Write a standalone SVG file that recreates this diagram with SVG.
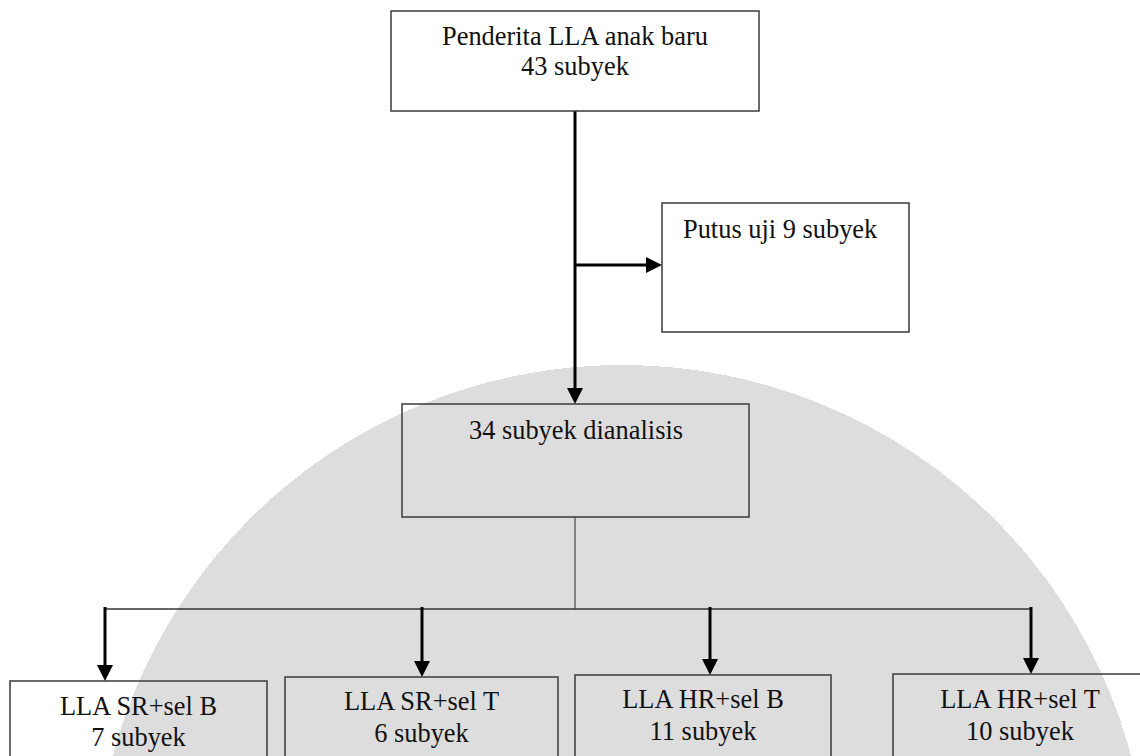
<svg xmlns="http://www.w3.org/2000/svg" width="1140" height="756" viewBox="0 0 1140 756">
  <style>
    .box { fill: none; stroke: #3a3a3a; stroke-width: 1.5; }
    .label { font-family: "Liberation Serif", "Times New Roman", serif; font-size: 26.4px; fill: #111; }
    .mid { text-anchor: middle; }
    .flow { stroke: #000; stroke-width: 3; fill: none; marker-end: url(#head); }
    .bus { stroke: #333; stroke-width: 1.5; fill: none; }
    .stem { stroke: #666; stroke-width: 1.5; fill: none; }
  </style>
  <defs>
    <marker id="head" markerUnits="userSpaceOnUse" markerWidth="16" markerHeight="16" refX="8" refY="8" orient="auto">
      <path d="M0,0 L16,8 L0,16 Z" fill="#000"/>
    </marker>
  </defs>

  <rect width="1140" height="756" fill="#fff"/>
  <!-- background seal -->
  <circle cx="622" cy="892" r="527" fill="#dddddd" shape-rendering="crispEdges"/>

  <g id="connectors">
    <!-- main trunk -->
    <line class="flow" x1="575" y1="111" x2="575" y2="396"/>
    <!-- dropout branch -->
    <line class="flow" x1="575" y1="265" x2="654" y2="265"/>
    <!-- split to groups -->
    <line class="stem" x1="575" y1="517" x2="575" y2="609"/>
    <line class="bus" x1="105" y1="609" x2="1031" y2="609"/>
    <line class="flow" x1="105" y1="607" x2="105" y2="673"/>
    <line class="flow" x1="422" y1="607" x2="422" y2="669"/>
    <line class="flow" x1="710" y1="607" x2="710" y2="667"/>
    <line class="flow" x1="1031" y1="607" x2="1031" y2="666"/>
  </g>

  <g id="node-start">
    <rect class="box" x="391" y="11" width="368" height="100"/>
    <text class="label mid" x="575" y="45">Penderita LLA anak baru</text>
    <text class="label mid" x="575" y="75">43 subyek</text>
  </g>

  <g id="node-dropout">
    <rect class="box" x="662" y="203" width="247" height="129"/>
    <text class="label" x="683" y="238">Putus uji 9 subyek</text>
  </g>

  <g id="node-analysed">
    <rect class="box" x="402" y="404" width="347" height="113"/>
    <text class="label mid" x="576" y="439">34 subyek dianalisis</text>
  </g>

  <g id="node-sr-b">
    <rect class="box" x="10" y="681" width="257" height="120"/>
    <text class="label mid" x="138.5" y="715">LLA SR+sel B</text>
    <text class="label mid" x="138.5" y="746">7 subyek</text>
  </g>

  <g id="node-sr-t">
    <rect class="box" x="285" y="677" width="273" height="120"/>
    <text class="label mid" x="421.5" y="710">LLA SR+sel T</text>
    <text class="label mid" x="421.5" y="742">6 subyek</text>
  </g>

  <g id="node-hr-b">
    <rect class="box" x="575" y="675" width="256" height="120"/>
    <text class="label mid" x="703" y="708">LLA HR+sel B</text>
    <text class="label mid" x="703" y="740">11 subyek</text>
  </g>

  <g id="node-hr-t">
    <rect class="box" x="893" y="674" width="254" height="120"/>
    <text class="label mid" x="1020" y="708">LLA HR+sel T</text>
    <text class="label mid" x="1020" y="740">10 subyek</text>
  </g>
</svg>
